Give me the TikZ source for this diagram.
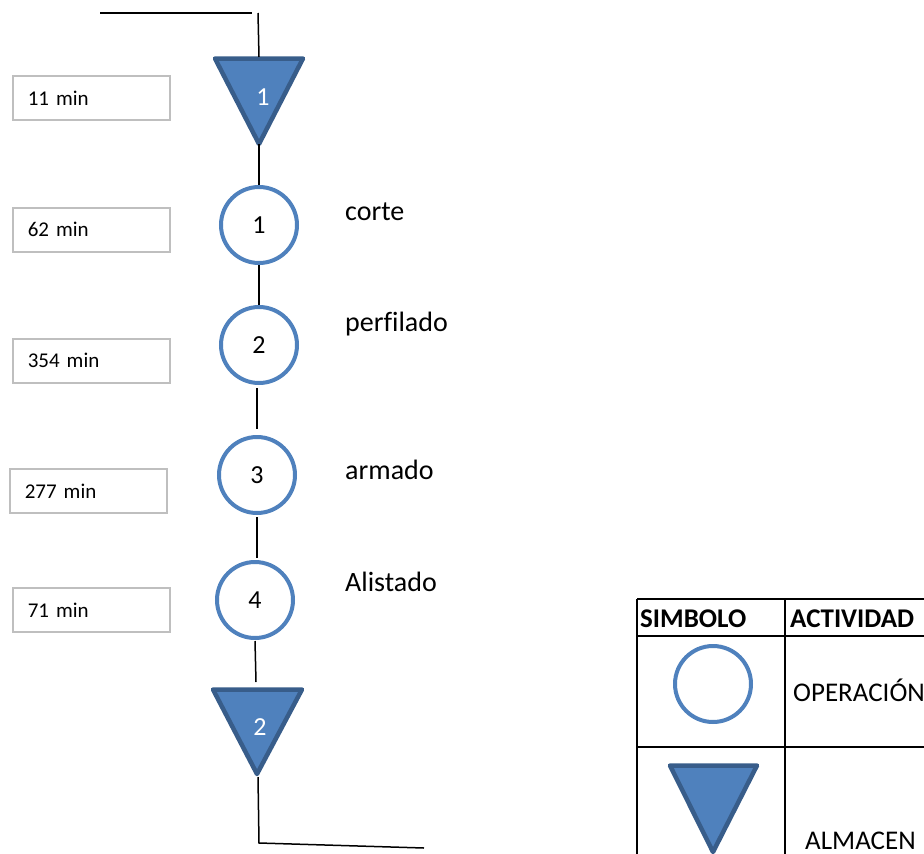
\documentclass[tikz,border=0pt]{standalone}
\usepackage{fontspec}
\setmainfont{Carlito}[Ligatures=NoCommon]
\definecolor{opblue}{HTML}{4F81BD}
\definecolor{opedge}{HTML}{385D8A}
\definecolor{boxgray}{HTML}{BFBFBF}
\begin{document}
\begin{tikzpicture}[x=1pt,y=-1pt,
  opcircle/.style={circle, draw=opblue, line width=4pt, fill=white,
    minimum size=76pt, inner sep=0pt, font=\fontsize{26}{30}\selectfont},
  storefill/.style={fill=opblue, draw=opedge, line width=4.5pt, line join=round},
  storelabel/.style={text=white, inner sep=0pt, font=\fontsize{26}{30}\selectfont},
  timebox/.style={draw=boxgray, line width=1.6pt, fill=white, anchor=north west,
    minimum width=157pt, minimum height=44pt, text width=127pt, inner xsep=15pt,
    inner ysep=0pt, align=left, font=\fontsize{21}{24}\selectfont},
  steplabel/.style={anchor=base west, inner sep=0pt, font=\fontsize{28}{32}\selectfont},
  flow/.style={draw=black, line width=1.5pt},
  grid/.style={draw=black, line width=2.8pt},
  headtext/.style={anchor=base west, inner sep=0pt, font=\bfseries\fontsize{27}{30}\selectfont},
  celltext/.style={anchor=base west, inner sep=0pt, font=\fontsize{27}{30}\selectfont}
]
\useasboundingbox (0,0) rectangle (924,854);
\clip (0,0) rectangle (924,854);

% incoming line
\coordinate (inA) at (100,13);
\coordinate (inB) at (252,13);
\coordinate (inC) at (258,13);
\draw[flow] (inA) -- (inB);

% storage 1
\coordinate (s1L) at (215,58.5);
\coordinate (s1R) at (303,58.5);
\coordinate (s1top) at (259,57);
\coordinate (s1apex) at (259,144);
\filldraw[storefill] (s1L) -- (s1R) -- (s1apex) -- cycle;
\node[storelabel] (s1) at (263,97) {1};
\draw[flow] (inC) -- (s1top);

% operations
\node[opcircle] (c1) at (259,225) {1};
\node[opcircle] (c2) at (259,345) {2};
\node[opcircle] (c3) at (257,475) {3};
\node[opcircle] (c4) at (255,600) {4};

% storage 2
\coordinate (s2L) at (213,689.5);
\coordinate (s2R) at (302,689.5);
\coordinate (s2top) at (256,682);
\coordinate (s2apex) at (257,774);
\filldraw[storefill] (s2L) -- (s2R) -- (s2apex) -- cycle;
\node[storelabel] (s2) at (260,727) {2};

% outgoing line
\coordinate (outA) at (258,777);
\coordinate (outB) at (259,843);
\coordinate (outC) at (424,848);

% connectors
\draw[flow] (s1apex) -- (c1);
\draw[flow] (c1) -- (c2);
\coordinate (l23a) at (257,388);
\coordinate (l23b) at (257,429);
\draw[flow] (l23a) -- (l23b);
\coordinate (l34a) at (257,517);
\coordinate (l34b) at (257,558);
\draw[flow] (l34a) -- (l34b);
\coordinate (l4s) at (255,641);
\draw[flow] (l4s) -- (s2top);
\draw[flow] (outA) -- (outB) -- (outC);

% step names
\node[steplabel] (n1) at (345,220) {corte};
\node[steplabel] (n2) at (345,331) {perfilado};
\node[steplabel] (n3) at (345,479) {armado};
\node[steplabel] (n4) at (345,591) {Alistado};

% times
\node[timebox] (t0) at (12,75) {11 min};
\node[timebox] (t1) at (12,207) {62 min};
\node[timebox] (t2) at (12,338) {354 min};
\node[timebox] (t3) at (9,468) {277 min};
\node[timebox] (t4) at (12,587) {71 min};

% legend table
\draw[grid] (637,599) -- (940,599);
\draw[grid] (637,636) -- (940,636);
\draw[grid] (637,747) -- (940,747);
\draw[grid] (637,599) -- (637,870);
\draw[grid] (785,599) -- (785,870);
\node[headtext] (hs) at (640,627) {SIMBOLO};
\node[headtext] (ha) at (790,627) {ACTIVIDAD};
\node[opcircle] (lc) at (713,684) {};
\node[celltext] (lop) at (793,701) {OPERACIÓN};
\filldraw[storefill] (670,765.5) -- (757,765.5) -- (713,852) -- cycle;
\node[celltext] (lal) at (805,849) {ALMACEN};
\end{tikzpicture}
\end{document}
